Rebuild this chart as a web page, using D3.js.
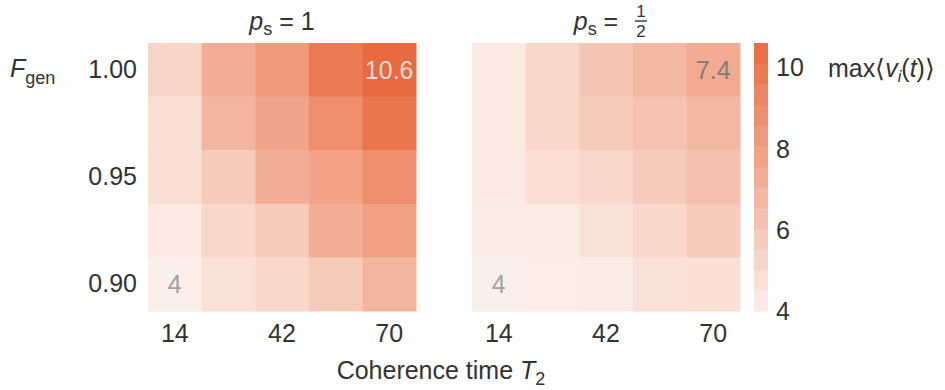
<!DOCTYPE html>
<html>
<head>
<meta charset="utf-8">
<title>max v_i heatmaps</title>
<script src="https://cdn.jsdelivr.net/npm/d3@7"></script>
<style>
  body { margin: 0; background: #fff; }
  text { font-family: "Liberation Sans", Arial, sans-serif; fill: #333; }
</style>
</head>
<body>
<script>
// coherence time columns and generation fidelity rows (top row first)
var t2Values = [14, 28, 42, 56, 70];
var fgenValues = [1.00, 0.975, 0.95, 0.925, 0.90];
var xTickLabels = [14, 42, 70];
var yTickLabels = [1.00, 0.95, 0.90];
var colorTicks = [4, 6, 8, 10];

// max<v_i(t)>, rows follow fgenValues, columns follow t2Values
var valuesPs1 = [
  [5.3, 7.3, 8.2, 9.8, 10.6],
  [4.8, 6.9, 7.7, 8.8, 10.0],
  [4.8, 5.8, 7.3, 7.8, 8.8],
  [4.3, 5.2, 5.8, 7.3, 7.9],
  [4.0, 4.7, 5.2, 5.8, 6.9]
];
var valuesPsHalf = [
  [4.3, 5.2, 6.1, 6.8, 7.4],
  [4.3, 5.2, 5.8, 6.2, 6.8],
  [4.3, 4.8, 5.2, 5.8, 6.3],
  [4.2, 4.2, 4.7, 5.2, 5.8],
  [4.0, 4.1, 4.2, 4.7, 4.8]
];

var W = 945, H = 390;
var svg = d3.select("body").append("svg").attr("width", W).attr("height", H);

var vmin = 4, vmax = 10.6;
var color = d3.scaleLinear().domain([vmin, vmax])
    .range(["#fcefea", "#e96a3e"]).interpolate(d3.interpolateRgb);

var plotTop = 43, size = 268;
var fs = "25px", fsSub = "18px";
var y = d3.scaleBand().domain(fgenValues).range([plotTop, plotTop + size]);

function panel(x0, data, title, labelY) {
  var x = d3.scaleBand().domain(t2Values).range([x0, x0 + size]);
  var g = svg.append("g");
  var cells = [];
  data.forEach(function (row, i) {
    row.forEach(function (v, j) {
      cells.push({ t: t2Values[j], f: fgenValues[i], v: v });
    });
  });
  g.selectAll("rect").data(cells).enter().append("rect")
    .attr("x", function (d) { return x(d.t); })
    .attr("y", function (d) { return y(d.f); })
    .attr("width", x.bandwidth() + 0.5)
    .attr("height", y.bandwidth() + 0.5)
    .attr("fill", function (d) { return color(d.v); });

  // min & max annotations
  var mn = d3.min(cells, function (d) { return d.v; });
  var mx = d3.max(cells, function (d) { return d.v; });
  var cMin = cells.find(function (d) { return d.v === mn; });
  var cMax = cells.find(function (d) { return d.v === mx; });
  [cMin, cMax].forEach(function (c) {
    g.append("text")
      .attr("x", x(c.t) + x.bandwidth() / 2)
      .attr("y", y(c.f) + y.bandwidth() / 2 + 9)
      .attr("text-anchor", "middle")
      .style("font-size", fs)
      .style("fill", c.v > 9 ? "#dcdcdc" : (c === cMax ? "#7d7d7d" : "#a0a0a0"))
      .text(d3.format(c.v % 1 ? ".1f" : "d")(c.v));
  });

  // x tick labels
  g.selectAll(".xt").data(xTickLabels).enter().append("text")
    .attr("x", function (d) { return x(d) + x.bandwidth() / 2; })
    .attr("y", 342)
    .attr("text-anchor", "middle")
    .style("font-size", fs)
    .text(function (d) { return d; });

  if (labelY) {
    g.selectAll(".yt").data(yTickLabels).enter().append("text")
      .attr("x", 137)
      .attr("y", function (d) { return y(d) + y.bandwidth() / 2 + 8; })
      .attr("text-anchor", "end")
      .style("font-size", fs)
      .text(function (d) { return d3.format(".2f")(d); });
  }
  title(g, x0 + size / 2);
}

panel(148, valuesPs1, function (g, cx) {
  var t = g.append("text").attr("x", cx).attr("y", 30).attr("text-anchor", "middle")
    .style("font-size", fs);
  t.append("tspan").style("font-style", "italic").text("p");
  t.append("tspan").attr("dy", 5).style("font-size", fsSub).text("s");
  t.append("tspan").attr("dy", -5).text(" = 1");
}, true);

panel(472, valuesPsHalf, function (g, cx) {
  var t = g.append("text").attr("x", cx - 10).attr("y", 30).attr("text-anchor", "middle")
    .style("font-size", fs);
  t.append("tspan").style("font-style", "italic").text("p");
  t.append("tspan").attr("dy", 5).style("font-size", fsSub).text("s");
  t.append("tspan").attr("dy", -5).text(" =");
  var fx = cx + 35;
  g.append("text").attr("x", fx).attr("y", 17).attr("text-anchor", "middle")
    .style("font-size", "17px").text("1");
  g.append("line").attr("x1", fx - 6).attr("x2", fx + 6).attr("y1", 21).attr("y2", 21)
    .attr("stroke", "#333").attr("stroke-width", 1.4);
  g.append("text").attr("x", fx).attr("y", 37).attr("text-anchor", "middle")
    .style("font-size", "17px").text("2");
}, false);

// F_gen label
var fl = svg.append("text").attr("x", 10).attr("y", 77).style("font-size", fs);
fl.append("tspan").style("font-style", "italic").text("F");
fl.append("tspan").attr("dy", 7).style("font-size", fsSub).text("gen");

// x axis title
var xt = svg.append("text").attr("x", 441).attr("y", 379).attr("text-anchor", "middle")
  .style("font-size", fs);
xt.append("tspan").text("Coherence time ");
xt.append("tspan").style("font-style", "italic").text("T");
xt.append("tspan").attr("dy", 6).style("font-size", fsSub).text("2");

// stepped colorbar
var cb = d3.scaleLinear().domain([vmin, vmax]).range([plotTop + size, plotTop]);
var nSteps = 13;
var stepW = (vmax - vmin) / nSteps;
var steps = d3.range(nSteps).map(function (i) { return vmin + i * stepW; });
svg.append("g").selectAll("rect").data(steps).enter().append("rect")
  .attr("x", 754)
  .attr("y", function (d) { return cb(d + stepW); })
  .attr("width", 14)
  .attr("height", function (d) { return cb(d) - cb(d + stepW) + 0.5; })
  .attr("fill", function (d) { return color(d + stepW / 2); });

svg.append("g").selectAll("text").data(colorTicks).enter().append("text")
  .attr("x", 776)
  .attr("y", function (d) { return cb(d) + 9; })
  .style("font-size", fs)
  .text(function (d) { return d; });

var ml = svg.append("text").attr("x", 828).attr("y", 77).style("font-size", fs);
ml.append("tspan").text("max\u27E8");
ml.append("tspan").style("font-style", "italic").text("v");
ml.append("tspan").attr("dy", 5).style("font-size", "16px").style("font-style", "italic").text("i");
ml.append("tspan").attr("dy", -5).text("(");
ml.append("tspan").style("font-style", "italic").text("t");
ml.append("tspan").text(")\u27E9");
</script>
</body>
</html>
